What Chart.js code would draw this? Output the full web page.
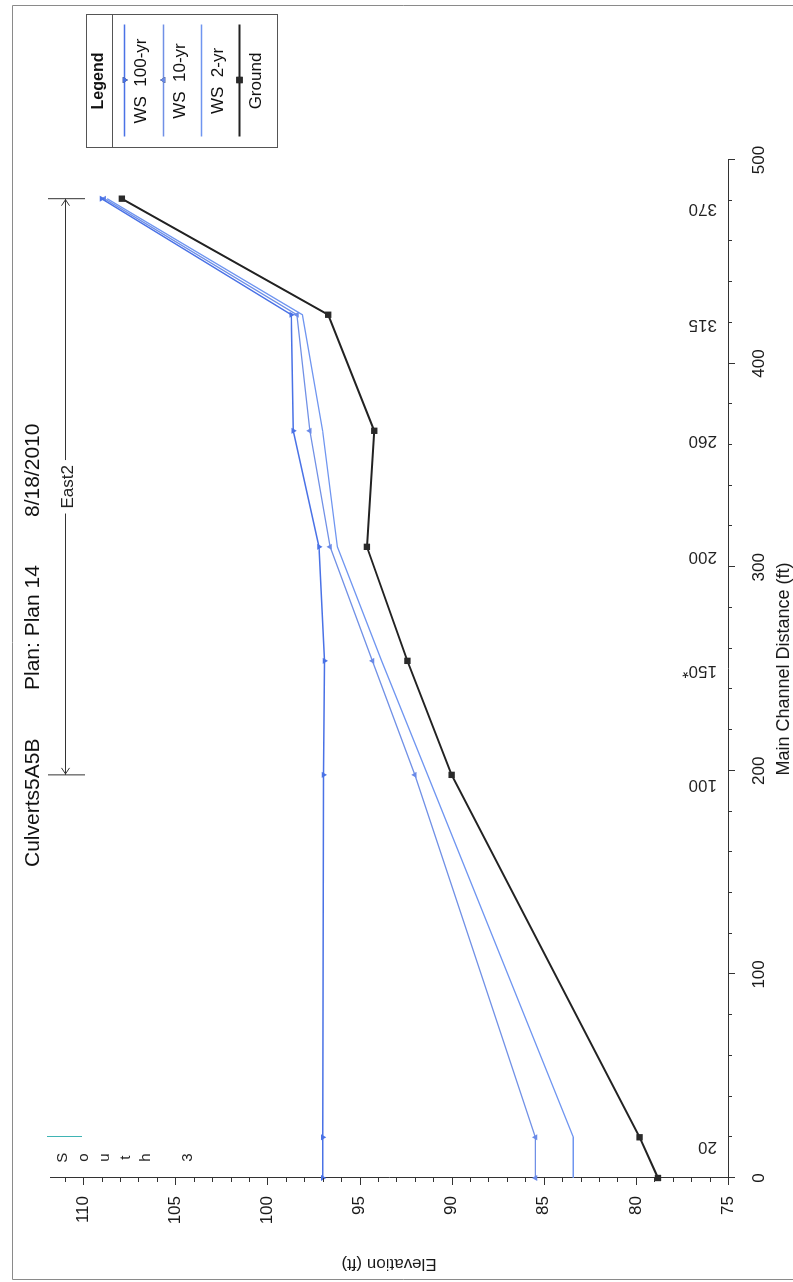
<!DOCTYPE html>
<html>
<head>
<meta charset="utf-8">
<script src="https://cdn.jsdelivr.net/npm/chart.js@4.4.1/dist/chart.umd.min.js"></script>
<style>
html, body { margin: 0; padding: 0; background: #fff; }
#wrap { position: relative; width: 793px; height: 1282px; overflow: hidden; background: #fff; }
#chart { position: absolute; left: 0; top: 0; transform-origin: 0 0; transform: translateY(1282px) rotate(-90deg); }
</style>
</head>
<body>
<div id="wrap"><canvas id="chart" width="1282" height="793"></canvas></div>
<script>
var FONT = 'Arial, "Liberation Sans", sans-serif';
Chart.defaults.font.family = FONT;
Chart.defaults.color = '#1a1a1a';

// main channel distance (ft) of each cross section
var distance = [0, 20, 198, 254, 310, 367, 424, 481];
// river station labels drawn along the bottom
var stations = ['', '20', '100', '150*', '200', '260', '315', '370'];
// water surface and ground elevations (ft)
var ws100 = [97.0, 97.0, 96.95, 96.9, 97.2, 98.6, 98.7, 109.0];
var ws10 = [85.45, 85.45, 92.0, 94.3, 96.6, 97.7, 98.4, 108.85];
var ws2 = [83.4, 83.4, 91.3, 93.8, 96.2, 97.0, 98.1, 108.7];
var ground = [78.8, 79.8, 90.0, 92.4, 94.6, 94.2, 96.7, 107.9];

function pts(vals) {
    return distance.map(function (d, i) { return { x: d, y: vals[i] }; });
}

function line(c, x1, y1, x2, y2) {
    c.beginPath();
    c.moveTo(x1, y1);
    c.lineTo(x2, y2);
    c.stroke();
}

var profileExtras = {
    id: 'profileExtras',
    afterDraw: function (chart) {
        var c = chart.ctx, xs = chart.scales.x, ys = chart.scales.y, area = chart.chartArea;
        c.save();

        // page frame
        c.strokeStyle = '#8a8a8a';
        c.lineWidth = 1;
        c.beginPath();
        c.moveTo(2.5, 800); c.lineTo(2.5, 12.5); c.lineTo(1276.5, 12.5); c.lineTo(1276.5, 800);
        c.stroke();

        // major / minor ticks
        c.strokeStyle = '#333';
        var v, px, len;
        for (v = 0; v <= 500; v += 20) {
            px = Math.round(xs.getPixelForValue(v)) + 0.5;
            len = v % 100 === 0 ? 7 : 4;
            line(c, px, area.bottom, px, area.bottom + len);
        }
        for (v = 75; v <= 111; v++) {
            px = Math.round(ys.getPixelForValue(v)) + 0.5;
            len = v % 5 === 0 ? 7 : 4;
            line(c, area.left - len, px, area.left, px);
        }

        // river station labels
        c.fillStyle = '#222';
        c.font = '17px ' + FONT;
        c.textAlign = 'left';
        c.textBaseline = 'alphabetic';
        for (var i = 0; i < stations.length; i++) {
            if (!stations[i]) continue;
            c.save();
            c.translate(xs.getPixelForValue(distance[i]) - 5, 717);
            c.rotate(-Math.PI / 2);
            c.fillText(stations[i], 0, 0);
            c.restore();
        }

        // reach bar: East2
        var x1 = xs.getPixelForValue(distance[2]), x2 = xs.getPixelForValue(distance[7]);
        var mid = (x1 + x2) / 2, by = 65.5;
        c.font = '17px ' + FONT;
        var tw = c.measureText('East2').width;
        c.strokeStyle = '#333';
        line(c, x1, by, mid - tw / 2 - 5, by);
        line(c, mid + tw / 2 + 5, by, x2, by);
        line(c, x1, 48, x1, 85);
        line(c, x2, 48, x2, 85);
        c.beginPath();
        c.moveTo(x1 + 7, by - 4); c.lineTo(x1 + 1, by); c.lineTo(x1 + 7, by + 4);
        c.moveTo(x2 - 7, by - 4); c.lineTo(x2 - 1, by); c.lineTo(x2 - 7, by + 4);
        c.stroke();
        c.textAlign = 'center';
        c.textBaseline = 'middle';
        c.fillText('East2', mid, 68);

        // reach South 3 (too short, stacked letters)
        var sx = xs.getPixelForValue(10);
        c.font = '15px ' + FONT;
        var letters = ['S', 'o', 'u', 't', 'h', '', '3'];
        for (i = 0; i < letters.length; i++) c.fillText(letters[i], sx, 63 + i * 20.8);
        c.strokeStyle = '#3fb4b4';
        var tx = Math.round(xs.getPixelForValue(20)) + 0.5;
        line(c, tx, 47, tx, 82);

        // title
        c.fillStyle = '#111';
        c.font = '21px ' + FONT;
        c.textAlign = 'left';
        c.fillText('Culverts5A5B', 415, 33);
        c.fillText('Plan: Plan 14', 592, 33);
        c.fillText('8/18/2010', 765, 33);

        // legend box
        var lx = 1134.5, ly = 86.5, lw = 133, lh = 191, cx = lx + lw / 2;
        c.strokeStyle = '#555';
        c.strokeRect(lx, ly, lw, lh);
        line(c, lx, 112.5, lx + lw, 112.5);
        c.fillStyle = '#111';
        c.textAlign = 'center';
        c.font = 'bold 16px ' + FONT;
        c.fillText('Legend', cx, 99);
        c.font = '17px ' + FONT;
        var names = ['WS  100-yr', 'WS  10-yr', 'WS  2-yr', 'Ground'];
        var rows = [124.5, 163.5, 201.5, 239.5];
        var ds = chart.data.datasets;
        for (i = 0; i < 4; i++) {
            c.strokeStyle = ds[i].borderColor;
            c.lineWidth = ds[i].borderWidth;
            line(c, lx + 11, rows[i], lx + lw - 10, rows[i]);
            if (ds[i].pointRadius > 0) {
                Chart.helpers.drawPoint(c, {
                    pointStyle: ds[i].pointStyle, rotation: ds[i].rotation || 0,
                    radius: ds[i].pointRadius, borderWidth: 0
                }, cx + 1, rows[i]);
                c.fillStyle = ds[i].pointBackgroundColor;
                c.fill();
            }
            c.fillStyle = '#111';
            c.fillText(names[i], cx, rows[i] + 17);
        }
        c.restore();
    }
};

var ctx = document.getElementById('chart');

var myChart = new Chart(ctx, {
    type: 'line',
    data: {
        datasets: [{
            label: 'WS 100-yr',
            data: pts(ws100),
            borderColor: '#4a72e6',
            borderWidth: 1.5,
            pointStyle: 'triangle',
            rotation: 180,
            pointRadius: 3.5,
            pointBackgroundColor: '#4a72e6',
            pointBorderWidth: 0
        }, {
            label: 'WS 10-yr',
            data: pts(ws10),
            borderColor: '#7090e6',
            borderWidth: 1.3,
            pointStyle: 'triangle',
            rotation: 0,
            pointRadius: 3.5,
            pointBackgroundColor: '#6a8ae8',
            pointBorderWidth: 0
        }, {
            label: 'WS 2-yr',
            data: pts(ws2),
            borderColor: '#6f95f0',
            borderWidth: 1.3,
            pointRadius: 0
        }, {
            label: 'Ground',
            data: pts(ground),
            borderColor: '#222',
            borderWidth: 2,
            pointStyle: 'rect',
            pointRadius: 4.5,
            pointBackgroundColor: '#2a2a2a',
            pointBorderWidth: 0
        }]
    },
    options: {
        responsive: false,
        animation: false,
        devicePixelRatio: 1,
        clip: false,
        elements: { line: { tension: 0 } },
        layout: { padding: { left: 0, top: 50, right: 160, bottom: 0 } },
        plugins: {
            legend: { display: false },
            tooltip: { enabled: false }
        },
        scales: {
            x: {
                type: 'linear',
                min: 0,
                max: 500,
                grid: { display: false },
                border: { color: '#333', width: 1 },
                ticks: { stepSize: 100, padding: 13, maxRotation: 0, font: { size: 17 } },
                title: { display: true, text: 'Main Channel Distance (ft)', padding: { top: 0, bottom: 0 }, font: { size: 18, lineHeight: 1 } },
                afterFit: function (scale) { scale.height = 65; }
            },
            y: {
                min: 75,
                max: 111.8,
                grid: { display: false },
                border: { color: '#333', width: 1 },
                ticks: { stepSize: 5, includeBounds: false, padding: 10, font: { size: 17 } },
                title: { display: true, text: 'Elevation (ft)', padding: { top: 10, bottom: 0 }, font: { size: 17, lineHeight: 1 } },
                afterFit: function (scale) { scale.width = 104; }
            }
        }
    },
    plugins: [profileExtras]
});
</script>
</body>
</html>
